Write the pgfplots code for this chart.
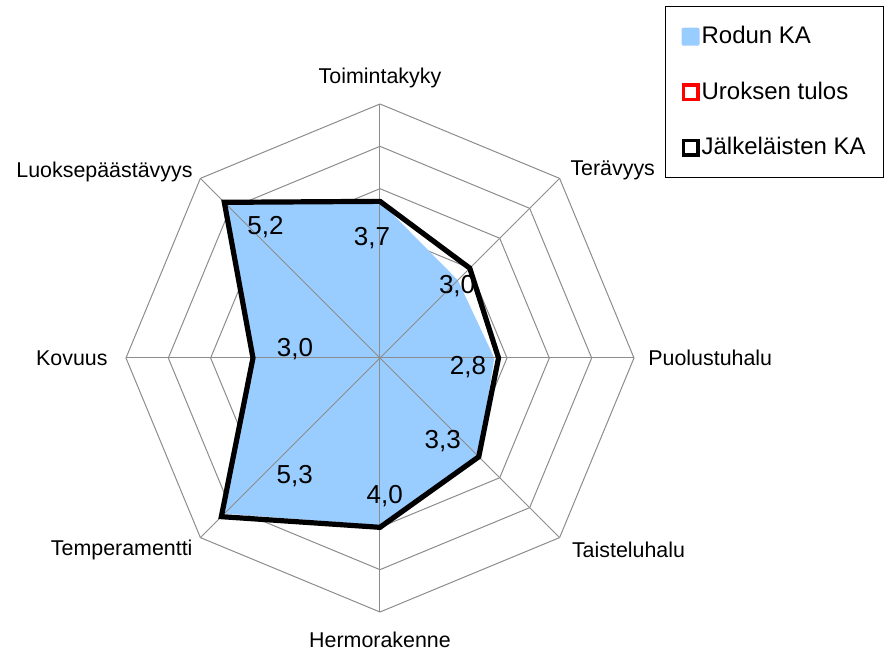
\documentclass[border=0pt]{standalone}
\usepackage{fontspec}
\setmainfont{Liberation Sans}
\usepackage{pgfplots}
\usepackage{pgfplotstable}
\pgfplotsset{compat=1.18}
\usepgfplotslibrary{polar}

\definecolor{rodun}{HTML}{99CCFF}
\definecolor{gridgray}{HTML}{8C8C8C}

% angle, Rodun KA, Jalkelaisten KA (last row closes the polygon)
\pgfplotstableread{
angle rodun jalk
90  3.7 3.7
45  2.6 3.0
0   2.7 2.8
-45 3.3 3.3
-90 3.95 4.0
-135 5.2 5.3
-180 3.0 3.0
-225 5.2 5.2
-270 3.7 3.7
}\datatable

\begin{document}
\begin{tikzpicture}
\useasboundingbox (-190pt,-146.5pt) rectangle (255pt,179pt);
\begin{polaraxis}[
  at={(0,0)}, anchor=center,
  scale only axis,
  width=254pt, height=254pt,
  ymin=0, ymax=6,
  hide axis,
  grid=none,
  xtick=\empty, ytick=\empty,
  clip=false,
  legend style={
    at={(axis description cs:1.061,1.193)}, anchor=north west,
    draw=black, line width=0.6pt,
    font=\fontsize{12}{14}\selectfont,
    inner xsep=8pt, inner ysep=9pt,
    row sep=15.5pt,
    nodes={inner sep=1pt},
    legend cell align=left,
  },
]
% octagonal rings
\pgfplotsinvokeforeach{1,...,6}{
  \addplot[gridgray, line width=0.5pt, forget plot] coordinates
    {(90,#1)(45,#1)(0,#1)(-45,#1)(-90,#1)(-135,#1)(-180,#1)(-225,#1)(-270,#1)};
}
% breed average (filled)
\addplot[fill=rodun, draw=none,
  legend image code/.code={\fill[rodun, rounded corners=1pt] (0pt,-4.5pt) rectangle (9pt,4.5pt);}]
  table[x=angle, y=rodun] {\datatable} -- cycle;
\addlegendentry{Rodun KA}
\addlegendimage{legend image code/.code={\draw[red, line width=1.8pt] (0.9pt,-3.6pt) rectangle (8.1pt,3.6pt);}}
\addlegendentry{Uroksen tulos}
% spokes
\pgfplotsinvokeforeach{90,45,0,-45,-90,-135,-180,-225}{
  \addplot[gridgray, line width=0.5pt, forget plot] coordinates {(#1,0)(#1,6)};
}
% offspring average
\addplot[black, line width=2.6pt, line join=miter,
  legend image code/.code={\draw[black, line width=1.8pt] (0.9pt,-3.6pt) rectangle (8.1pt,3.6pt);}]
  table[x=angle, y=jalk] {\datatable} -- cycle;
\addlegendentry{Jälkeläisten KA}

% value labels
\begin{scope}[font=\fontsize{13}{15}\selectfont]
\node at (axis cs:93.8,2.84) {3,7};
\node at (axis cs:43,2.49) {3,0};
\node at (axis cs:-6.2,2.09) {2,8};
\node at (axis cs:-53,2.46) {3,3};
\node at (axis cs:-88,3.26) {4,0};
\node at (axis cs:234.2,3.44) {5,3};
\node at (axis cs:174,2.02) {3,0};
\node at (axis cs:131.2,4.11) {5,2};
\end{scope}

% category labels
\begin{scope}[font=\fontsize{10.7}{12}\selectfont, inner sep=0pt]
\node[anchor=center, yshift=13pt] at (axis cs:90,6) {Toimintakyky};
\node[anchor=west, xshift=5.25pt, yshift=4.25pt] at (axis cs:45,6) {Terävyys};
\node[anchor=west, xshift=7pt] at (axis cs:0,6) {Puolustuhalu};
\node[anchor=west, xshift=6pt, yshift=-6pt] at (axis cs:-45,6) {Taisteluhalu};
\node[anchor=center, yshift=-14pt] at (axis cs:-90,6) {Hermorakenne};
\node[anchor=east, xshift=-3.75pt, yshift=-6pt] at (axis cs:-135,6) {Temperamentti};
\node[anchor=east, xshift=-9pt] at (axis cs:180,6) {Kovuus};
\node[anchor=east, xshift=-3.75pt, yshift=3.25pt] at (axis cs:135,6) {Luoksepäästävyys};
\end{scope}
\end{polaraxis}
\end{tikzpicture}
\end{document}
